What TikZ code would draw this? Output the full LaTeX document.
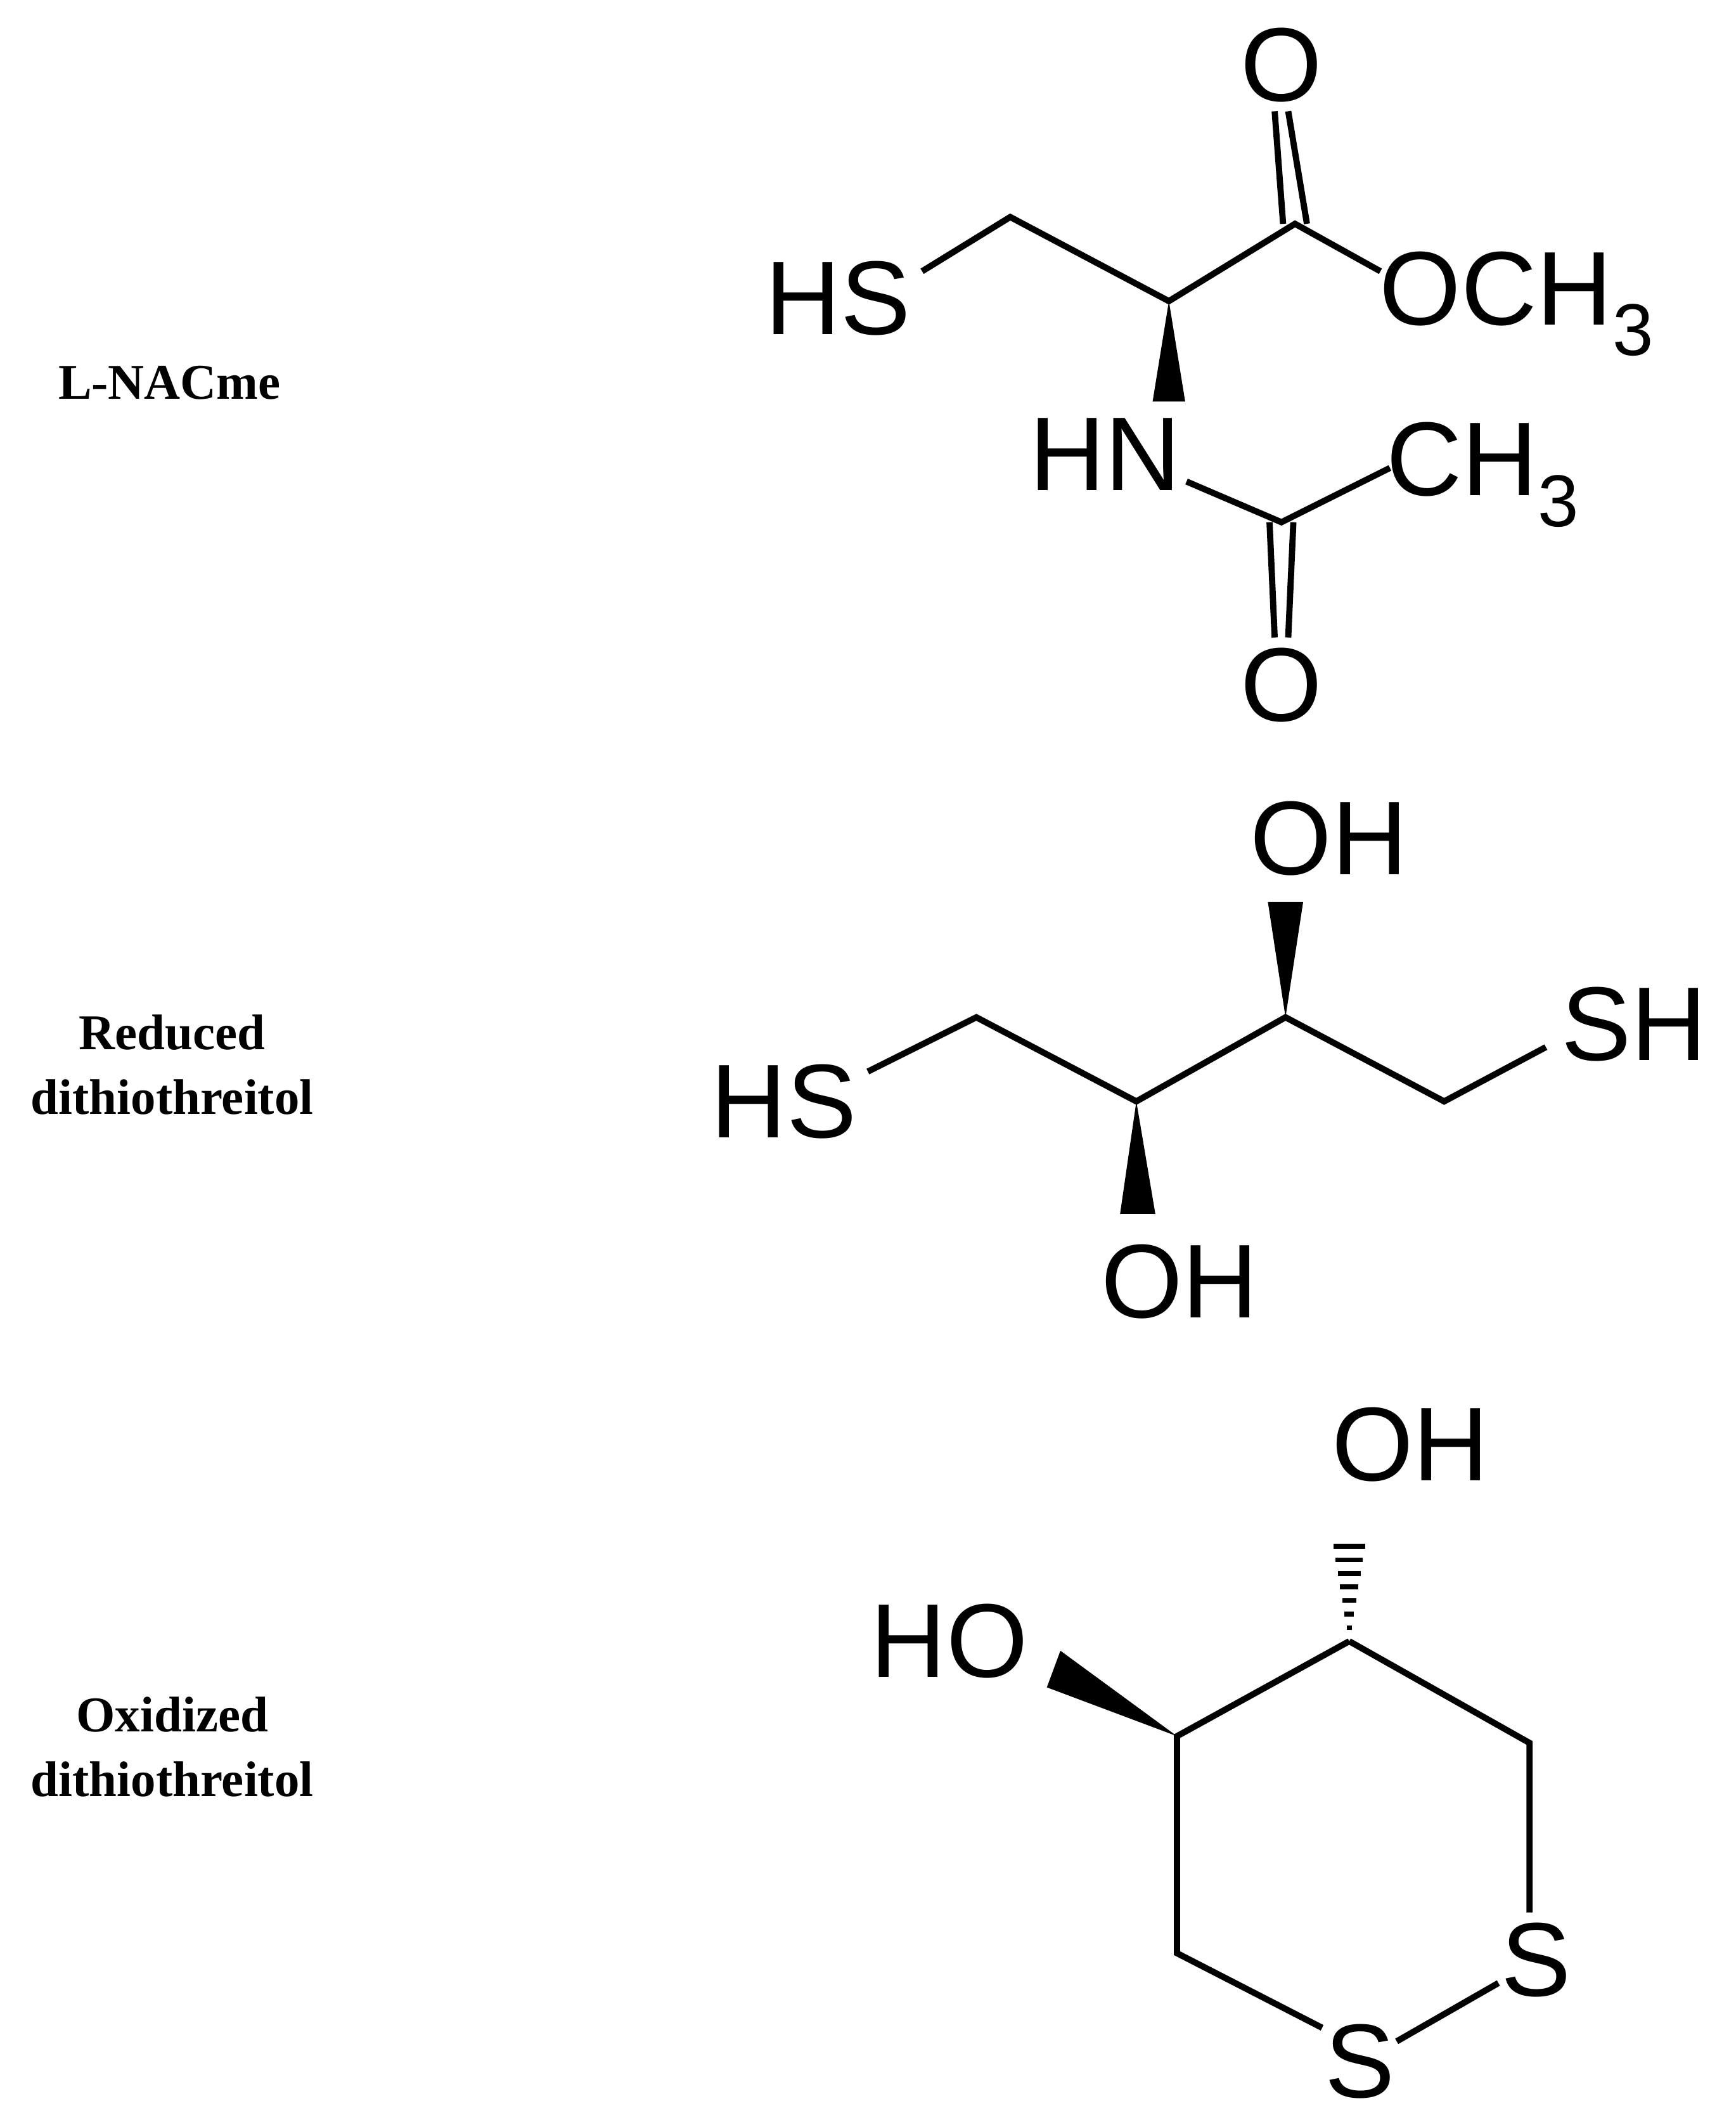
\documentclass[tikz,border=0pt]{standalone}
\usepackage{fontspec}
\setmainfont{Liberation Sans}
\newfontfamily\lbl{Liberation Serif}
\begin{document}
\begin{tikzpicture}[x=0.02cm,y=-0.02cm,line width=2.6pt,
 atom/.style={font=\fontsize{44}{48}\selectfont,inner sep=0pt},
 caplabel/.style={font=\lbl\bfseries\fontsize{21}{27}\selectfont,align=center}]
\useasboundingbox (0,0) rectangle (1280,1563);
% labels
\node[caplabel] (l1) at (125,282) {L-NACme};
\node[caplabel] (l2) at (127,785) {Reduced\\dithiothreitol};
\node[caplabel] (l3) at (127,1288) {Oxidized\\dithiothreitol};
% L-NACme
\node[atom] (hs1) at (618,220) {HS};
\node[atom] (o1) at (945,48) {O};
\node[atom,anchor=west] (och) at (1015,224) {OCH\textsubscript{3}};
\node[atom] (hn) at (815,335) {HN};
\node[atom,anchor=west] (ch3) at (1020,350) {CH\textsubscript{3}};
\node[atom] (o2) at (945,505) {O};
\coordinate (c1) at (745,160);
\coordinate (ca) at (862,222);
\coordinate (cc) at (955,165);
\coordinate (ccn) at (945,385);
\draw (680,200) -- (c1) -- (ca) -- (cc) -- (1018,200);
\draw ([xshift=-5]cc) -- (940,82) (950,82) -- ([xshift=5]cc);
\fill (ca) -- (850,296) -- (874,296) -- cycle;
\draw (875,355) -- (ccn) -- (1025,345);
\draw ([xshift=-5]ccn) -- (940,470) (950,470) -- ([xshift=5]ccn);
% reduced DTT
\node[atom] (hs2) at (578,812) {HS};
\node[atom] (sh2) at (1205,755) {SH};
\node[atom] (oh1) at (870,945) {OH};
\node[atom] (oh2) at (980,618) {OH};
\coordinate (d1) at (720,750);
\coordinate (d2) at (838,812);
\coordinate (d3) at (948,750);
\coordinate (d4) at (1065,812);
\draw (640,790) -- (d1) -- (d2) -- (d3) -- (d4) -- (1140,772);
\fill (d2) -- (826,895) -- (852,895) -- cycle;
\fill (d3) -- (935,665) -- (961,665) -- cycle;
% oxidized DTT
\node[atom] (oh3) at (1040,1065) {OH};
\node[atom] (ho) at (700,1210) {HO};
\node[atom] (s1) at (1003,1520) {S};
\node[atom] (s2) at (1133,1445) {S};
\coordinate (r1) at (995,1210);
\coordinate (r2) at (868,1280);
\coordinate (r3) at (868,1440);
\coordinate (r6) at (1128,1285);
\draw (r1) -- (r2) -- (r3) -- (975,1495);
\draw (1030,1505) -- (1105,1462);
\draw (1128,1410) -- (r6) -- (r1);
\foreach \i in {0,...,6}{
 \pgfmathsetmacro\yy{1200-\i*10}
 \pgfmathsetmacro\w{2+\i*1.6}
 \draw[line width=2pt] (995-\w,\yy) -- (995+\w,\yy);}
\fill (r2) -- (782,1217) -- (772,1244) -- cycle;
\end{tikzpicture}
\end{document}
